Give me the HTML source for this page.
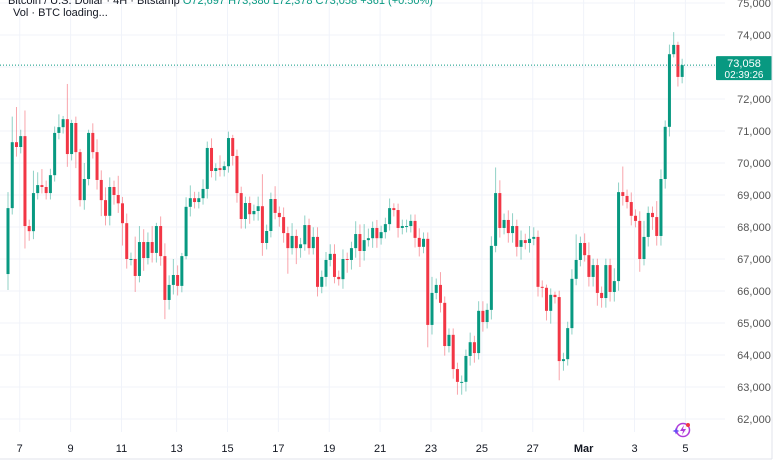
<!DOCTYPE html>
<html><head><meta charset="utf-8"><style>
body{margin:0;background:#fff;}
svg{display:block;font-family:"Liberation Sans",sans-serif;}
</style></head><body>
<svg id="chart" width="780" height="470">
<rect x="0" y="0" width="780" height="470" fill="#fff"/>
<g id="grid"></g>
<g id="candles"></g>
<g id="axes"></g>
<line x1="772" y1="0" x2="772" y2="459" stroke="#e0e3eb"/>
<line x1="0" y1="459" x2="772" y2="459" stroke="#e0e3eb"/>
<text x="8" y="4" font-size="11" fill="#131722">Bitcoin / U.S. Dollar · 4H · Bitstamp <tspan fill="#089981">O72,697 H73,380 L72,378 C73,058 +361 (+0.50%)</tspan></text>
<text x="13" y="16" font-size="11" fill="#131722">Vol · BTC loading...</text>
<g>
<circle cx="683" cy="430" r="6.5" fill="none" stroke="#b03cd9" stroke-width="1.5"/>
<path d="M684 425 L680 431 L683 431 L682 435 L686 429 L683 429 Z" fill="#b03cd9"/>
<circle cx="688" cy="425" r="2" fill="#f23645"/>
<path d="M675 430 l1 -2.5 l1 2.5 l2.5 1 l-2.5 1 l-1 2.5 l-1 -2.5 l-2.5 -1 z" fill="#6b4cf6"/>
</g>
</svg>
<script>
const closes = [
68590,70650,70500,70840,68030,67870,69060,69310,69250,69060,69620,70940,71120,71370,70280,71250,70340,68840,69500,70940,70340,69470,68840,68350,69250,69000,68740,68120,
67000,67000,66470,67530,67030,67530,67190,68030,67090,65720,66190,66500,66160,67090,68630,68900,68780,68900,69190,70470,69750,69840,69780,69900,70780,70220,69060,68250,68750,68400,68500,
68650,67500,67875,68875,68440,68310,67810,67340,67720,67340,67460,68060,67340,67690,66130,66440,66970,67160,66440,66370,67000,66970,67340,67780,67250,67590,67650,67970,67650,
67840,68090,68590,68530,67970,68030,68030,68190,67660,67380,67630,64940,65940,66190,65630,64280,64630,63560,63160,63160,63970,64400,64060,65380,65030,65410,67410,69060,67970,68220,
67810,68030,67380,67590,67500,67630,67690,66130,66100,65380,65880,65810,63810,63870,64840,66380,66970,67500,67120,66440,66810,65940,65780,66810,65970,66310,69090,68970,68780,
68350,68190,67000,67690,68440,68310,67720,69500,71130,73400,73690,72690,73058];
const firstOpen = 66530;
const wickUp = [
500,800,1100,200,800,200,700,400,500,200,200,200,400,100,1100,100,200,100,500,100,300,400,300,400,300,200,600,200,
300,200,700,500,400,300,500,100,300,400,300,500,300,100,300,400,200,200,300,200,300,150,400,150,200,100,200,200,200,200,200,
300,1000,200,200,400,200,300,200,400,200,200,300,200,300,300,200,250,300,300,200,300,200,200,400,300,500,300,200,250,
200,200,300,150,200,200,200,200,200,300,200,200,500,200,400,200,200,200,200,200,200,300,200,300,300,200,300,800,400,200,
300,400,200,300,200,400,300,200,200,100,200,100,200,200,200,300,800,200,300,400,200,200,200,200,200,400,300,800,200,
300,200,300,500,200,200,500,300,200,300,400,100,200];
const wickDn = [
500,200,300,200,700,300,250,200,200,200,200,200,200,200,400,200,500,200,300,200,200,300,500,300,300,300,300,700,
300,200,500,200,400,200,300,300,300,600,300,300,300,200,100,300,200,200,200,300,200,300,200,200,200,300,300,300,300,300,200,
300,400,200,200,200,300,300,800,200,500,300,200,200,200,300,200,300,200,200,200,300,400,300,300,500,300,200,300,300,
200,200,200,200,300,200,200,200,300,300,200,700,300,200,300,300,200,300,400,400,300,300,300,200,300,200,300,200,300,200,
300,300,300,400,200,300,200,300,300,300,400,200,600,300,200,200,200,200,200,300,300,400,300,300,300,300,300,300,200,
300,200,400,200,300,400,300,300,300,300,100,300,200];
const priceTicks = [75000,74000,73000,72000,71000,70000,69000,68000,67000,66000,65000,64000,63000,62000];
const priceTickLabels = ["75,000","74,000","73,000","72,000","71,000","70,000","69,000","68,000","67,000","66,000","65,000","64,000","63,000","62,000"];
const dayLabels = ["7","9","11","13","15","17","19","21","23","25","27","Mar","3","5"];
const dayLabelIndex = [3,15,27,40,52,64,76,88,100,112,124,136,148,160];
const lastPrice = 73058;

const NS = "http://www.w3.org/2000/svg";
function yScale(p){ return 3 + (75000 - p) * 0.032; }
function xScale(i){ return 8 + i * 4.24; }
function mk(tag, attrs, parent){ const e = document.createElementNS(NS, tag); for (const k in attrs) e.setAttribute(k, attrs[k]); parent.appendChild(e); return e; }

const grid = document.getElementById('grid');
const axes = document.getElementById('axes');
const cg = document.getElementById('candles');

priceTicks.forEach((p, i) => {
  const y = yScale(p);
  const gl = mk('line', {x1:0, x2:725, y1:y, y2:y, stroke:'#f0f3fa'}, grid);
  
  
  const t = mk('text', {x:754, y:y+4, 'font-size':11, fill:'#555', 'text-anchor':'middle'}, axes);
  t.textContent = priceTickLabels[i];
  
  
});
dayLabels.forEach((d, i) => {
  const x = xScale(dayLabelIndex[i]) - 1;
  const gl = mk('line', {x1:x, x2:x, y1:0, y2:432, stroke:'#f0f3fa'}, grid);
  
  
  const t = mk('text', {x:x, y:452, 'font-size':11, fill:'#131722', 'text-anchor':'middle', 'font-weight': d === 'Mar' ? 'bold' : 'normal'}, axes);
  t.textContent = d;
  
  
});

closes.forEach((c, i) => {
  const o = i === 0 ? firstOpen : closes[i-1];
  const up = c >= o;
  const col = up ? '#089981' : '#f23645';
  const hi = Math.max(o, c) + wickUp[i];
  const lo = Math.min(o, c) - wickDn[i];
  const x = xScale(i);
  const g = mk('g', {}, cg);
  
  
  const w = mk('line', {x1:x, x2:x, y1:yScale(hi), y2:yScale(lo), stroke:col, 'stroke-opacity':0.45, 'stroke-width':1}, g);
  
  
  const top = yScale(Math.max(o, c)), bot = yScale(Math.min(o, c));
  const b = mk('rect', {x:x-1.5, y:top, width:3, height:Math.max(1, bot-top), fill:col}, g);
  
  
});

const ly = yScale(lastPrice);
const pl = mk('line', {x1:0, x2:716, y1:ly, y2:ly, stroke:'#089981', 'stroke-dasharray':'1 2', 'stroke-width':1}, axes);


const box = mk('rect', {x:716, y:ly-9, width:56, height:24, fill:'#089981', rx:1}, axes);


const t1 = mk('text', {x:744, y:ly+2, 'font-size':11, fill:'#fff', 'text-anchor':'middle'}, axes);
t1.textContent = '73,058';


const t2 = mk('text', {x:744, y:ly+13, 'font-size':10, fill:'#fff', 'text-anchor':'middle'}, axes);
t2.textContent = '02:39:26';


</script>
</body></html>
